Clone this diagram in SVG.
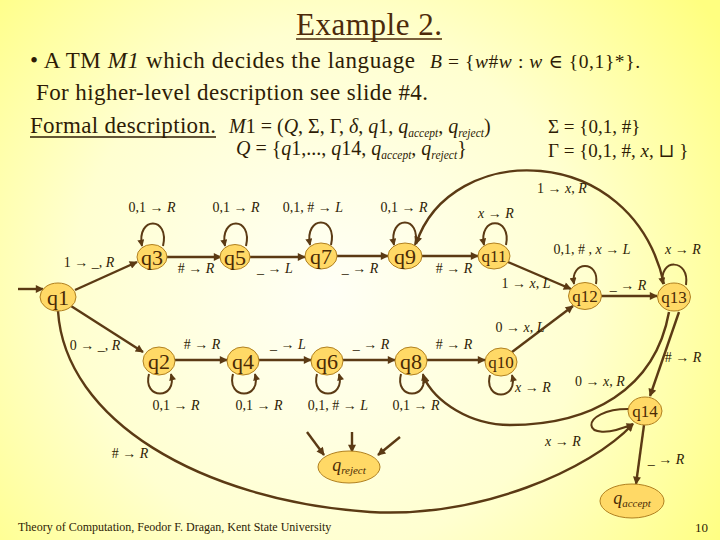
<svg xmlns="http://www.w3.org/2000/svg" width="720" height="540" viewBox="0 0 720 540" font-family="Liberation Serif, DejaVu Serif, Times New Roman, serif">
<defs>
<radialGradient id="bg" cx="330" cy="290" r="470" gradientUnits="userSpaceOnUse">
<stop offset="0" stop-color="#FFFFF6"/>
<stop offset="0.55" stop-color="#FFFFD0"/>
<stop offset="1" stop-color="#FFFF80"/>
</radialGradient>
<marker id="ah" viewBox="0 0 10 10" refX="9" refY="5" markerWidth="10" markerHeight="8" markerUnits="userSpaceOnUse" orient="auto">
<path d="M0,0 L10,5 L0,10 z" fill="#5B3A14"/>
</marker>
<marker id="ahs" viewBox="0 0 10 10" refX="9" refY="5" markerWidth="8" markerHeight="7" markerUnits="userSpaceOnUse" orient="auto">
<path d="M0,0 L10,5 L0,10 z" fill="#5B3A14"/>
</marker>
</defs>
<style>
.t{fill:#2E1C05}
.lb text{font-size:14px;fill:#2E1C05}
.i{font-style:italic}
.n ellipse{fill:#FFD966;stroke:#B08020;stroke-width:1}
.n text{fill:#4A2A05;text-anchor:middle}
.e{fill:none;stroke:#5B3A14;stroke-width:2.4;marker-end:url(#ah)}
.lp{fill:none;stroke:#5B3A14;stroke-width:2;marker-end:url(#ahs)}
</style>
<rect width="720" height="540" fill="url(#bg)"/>

<!-- header text -->
<g id="header">
<text x="369" y="35" font-size="31" text-anchor="middle" fill="#4D2A0A" textLength="146">Example 2.</text>
<line x1="296" y1="39" x2="442" y2="39" stroke="#4D2A0A" stroke-width="1.5"/>
<text class="t" x="30" y="68" font-size="23" textLength="385">• A TM <tspan class="i">M1</tspan> which decides the language</text>
<text class="t" x="430" y="68" font-size="19.5" textLength="210"><tspan class="i">B</tspan> = {<tspan class="i">w</tspan>#<tspan class="i">w</tspan> : <tspan class="i">w</tspan> ∈ {0,1}*}.</text>
<text class="t" x="36" y="100" font-size="23" textLength="392">For higher-level description see slide #4.</text>
<text class="t" x="30" y="133" font-size="23" textLength="186">Formal description.</text>
<line x1="30" y1="137" x2="216" y2="137" stroke="#2E1C05" stroke-width="1.3"/>
<text class="t" x="229" y="133" font-size="20"><tspan class="i">M</tspan>1 = (<tspan class="i">Q</tspan>, Σ, Γ, <tspan class="i">δ</tspan>, <tspan class="i">q</tspan>1, <tspan class="i">q</tspan><tspan class="i" font-size="11.5" dy="4">accept</tspan><tspan dy="-4">, </tspan><tspan class="i">q</tspan><tspan class="i" font-size="11.5" dy="4">reject</tspan><tspan dy="-4">)</tspan></text>
<text class="t" x="236" y="155" font-size="20"><tspan class="i">Q</tspan> = {<tspan class="i">q</tspan>1,..., <tspan class="i">q</tspan>14, <tspan class="i">q</tspan><tspan class="i" font-size="11.5" dy="4">accept</tspan><tspan dy="-4">, </tspan><tspan class="i">q</tspan><tspan class="i" font-size="11.5" dy="4">reject</tspan><tspan dy="-4">}</tspan></text>
<text class="t" x="548" y="133" font-size="19">Σ = {0,1, #}</text>
<text class="t" x="548" y="157" font-size="19">Γ = {0,1, #, <tspan class="i">x</tspan>, ⊔ }</text>
</g>

<!-- connectors -->
<g id="connectors">
<path class="e" d="M18,289 L43,289"/>
<path class="e" d="M75,290 L137,262"/>
<path class="e" d="M71,306 L143,352"/>
<path class="e" d="M166,257 L221,257"/>
<path class="e" d="M249,257 L305,257"/>
<path class="e" d="M337,256 L388,256"/>
<path class="e" d="M422,256 L478,256"/>
<path class="e" d="M508,262 L571,289"/>
<path class="e" d="M601,296 L657,296"/>
<path class="e" d="M512,352 L573,306"/>
<path class="e" d="M175,360 L227,360"/>
<path class="e" d="M259,360 L311,360"/>
<path class="e" d="M343,360 L395,360"/>
<path class="e" d="M427,360 L485,360"/>
<path class="lp" d="M163,246 C170,216 136,216 142,246"/>
<path class="lp" d="M246,246 C253,216 219,216 225,246"/>
<path class="lp" d="M331,245 C338,215 304,215 310,245"/>
<path class="lp" d="M415,245 C422,215 388,215 394,245"/>
<path class="lp" d="M506,245 C512,216 478,216 484,245"/>
<path class="lp" d="M596,284 C600,260 570,260 574,284"/>
<path class="lp" d="M686,285 C690,258 658,258 663,284"/>
<path class="lp" d="M149,374 C142,400 178,400 171,374"/>
<path class="lp" d="M233,374 C226,400 262,400 255,374"/>
<path class="lp" d="M317,374 C310,400 346,400 339,374"/>
<path class="lp" d="M401,374 C394,400 430,400 423,374"/>
<path class="lp" d="M490,375 C483,401 519,401 512,375"/>
<path class="e" d="M664,284 C632,140 450,140 416,244"/>
<path class="e" d="M669,312 C655,390 590,425 510,425 C470,425 435,402 423,376"/>
<path class="e" d="M679,312 L650,396"/>
<path class="e" d="M58,311 C65,420 200,500 370,512 C480,518 590,470 633,424"/>
<path class="lp" d="M630,409 C578,408 578,448 633,424"/>
<path class="e" d="M644,425 L636,484"/>
<path class="e" d="M307,432 L324,455"/>
<path class="e" d="M352,432 L352,452"/>
<path class="e" d="M400,437 L378,455"/>
</g>

<!-- nodes -->
<g id="q1" class="n"><ellipse cx="58" cy="297" rx="18" ry="14"/><text x="58" y="305" font-size="22">q1</text></g>
<g id="q3" class="n"><ellipse cx="152" cy="257" rx="15" ry="12.5"/><text x="152" y="265" font-size="22">q3</text></g>
<g id="q5" class="n"><ellipse cx="235" cy="257" rx="15" ry="12.5"/><text x="235" y="265" font-size="22">q5</text></g>
<g id="q7" class="n"><ellipse cx="321" cy="256" rx="16" ry="13"/><text x="321" y="264" font-size="22">q7</text></g>
<g id="q9" class="n"><ellipse cx="405" cy="256" rx="17" ry="13"/><text x="405" y="264" font-size="22">q9</text></g>
<g id="q11" class="n"><ellipse cx="494" cy="256" rx="16" ry="13"/><text x="494" y="262" font-size="17">q11</text></g>
<g id="q12" class="n"><ellipse cx="585" cy="296" rx="16.5" ry="13.5"/><text x="585" y="302" font-size="17">q12</text></g>
<g id="q13" class="n"><ellipse cx="674" cy="297" rx="16.5" ry="14"/><text x="674" y="303" font-size="17">q13</text></g>
<g id="q2" class="n"><ellipse cx="159" cy="361" rx="16" ry="14"/><text x="159" y="369" font-size="22">q2</text></g>
<g id="q4" class="n"><ellipse cx="243" cy="361" rx="16" ry="14"/><text x="243" y="369" font-size="22">q4</text></g>
<g id="q6" class="n"><ellipse cx="327" cy="361" rx="16" ry="14"/><text x="327" y="369" font-size="22">q6</text></g>
<g id="q8" class="n"><ellipse cx="411" cy="361" rx="16" ry="14"/><text x="411" y="369" font-size="22">q8</text></g>
<g id="q10" class="n"><ellipse cx="501" cy="362" rx="16" ry="14"/><text x="501" y="368" font-size="17">q10</text></g>
<g id="q14" class="n"><ellipse cx="645" cy="411" rx="17" ry="14"/><text x="645" y="417" font-size="17">q14</text></g>
<g id="qreject" class="n"><ellipse cx="349" cy="467" rx="31" ry="16"/><text x="349" y="471" font-size="18"><tspan font-style="italic">q</tspan><tspan font-style="italic" font-size="11" dy="3">reject</tspan></text></g>
<g id="qaccept" class="n"><ellipse cx="632" cy="501" rx="32" ry="17"/><text x="632" y="504" font-size="18"><tspan font-style="italic">q</tspan><tspan font-style="italic" font-size="11" dy="3">accept</tspan></text></g>

<!-- edge labels -->
<g id="labels" class="lb">
<text x="152" y="212" text-anchor="middle">0,1 → <tspan class="i">R</tspan></text>
<text x="236" y="212" text-anchor="middle">0,1 → <tspan class="i">R</tspan></text>
<text x="313" y="212" text-anchor="middle">0,1, # → <tspan class="i">L</tspan></text>
<text x="404" y="212" text-anchor="middle">0,1 → <tspan class="i">R</tspan></text>
<text x="496" y="218" text-anchor="middle"><tspan class="i">x</tspan> → <tspan class="i">R</tspan></text>
<text x="562" y="193" text-anchor="middle">1 → <tspan class="i">x</tspan>, <tspan class="i">R</tspan></text>
<text x="592" y="254" text-anchor="middle">0,1, # , <tspan class="i">x</tspan> → <tspan class="i">L</tspan></text>
<text x="683" y="254" text-anchor="middle"><tspan class="i">x</tspan> → <tspan class="i">R</tspan></text>
<text x="628" y="290" text-anchor="middle">_ → <tspan class="i">R</tspan></text>
<text x="526" y="288" text-anchor="middle">1 → <tspan class="i">x</tspan>, <tspan class="i">L</tspan></text>
<text x="520" y="332" text-anchor="middle">0 → <tspan class="i">x</tspan>, <tspan class="i">L</tspan></text>
<text x="89" y="267" text-anchor="middle">1 → _, <tspan class="i">R</tspan></text>
<text x="95" y="350" text-anchor="middle">0 → _, <tspan class="i">R</tspan></text>
<text x="196" y="273" text-anchor="middle"># → <tspan class="i">R</tspan></text>
<text x="275" y="273" text-anchor="middle">_ → <tspan class="i">L</tspan></text>
<text x="360" y="273" text-anchor="middle">_ → <tspan class="i">R</tspan></text>
<text x="454" y="273" text-anchor="middle"># → <tspan class="i">R</tspan></text>
<text x="202" y="349" text-anchor="middle"># → <tspan class="i">R</tspan></text>
<text x="288" y="349" text-anchor="middle">_ → <tspan class="i">L</tspan></text>
<text x="371" y="349" text-anchor="middle">_ → <tspan class="i">R</tspan></text>
<text x="454" y="349" text-anchor="middle"># → <tspan class="i">R</tspan></text>
<text x="176" y="410" text-anchor="middle">0,1 → <tspan class="i">R</tspan></text>
<text x="259" y="410" text-anchor="middle">0,1 → <tspan class="i">R</tspan></text>
<text x="338" y="410" text-anchor="middle">0,1, # → <tspan class="i">L</tspan></text>
<text x="416" y="410" text-anchor="middle">0,1 → <tspan class="i">R</tspan></text>
<text x="533" y="392" text-anchor="middle"><tspan class="i">x</tspan> → <tspan class="i">R</tspan></text>
<text x="600" y="386" text-anchor="middle">0 → <tspan class="i">x</tspan>, <tspan class="i">R</tspan></text>
<text x="683" y="362" text-anchor="middle"># → <tspan class="i">R</tspan></text>
<text x="563" y="446" text-anchor="middle"><tspan class="i">x</tspan> → <tspan class="i">R</tspan></text>
<text x="666" y="464" text-anchor="middle">_ → <tspan class="i">R</tspan></text>
<text x="130" y="458" text-anchor="middle"># → <tspan class="i">R</tspan></text>
</g>

<g id="footer">
<text class="t" x="18" y="531" font-size="12">Theory of Computation, Feodor F. Dragan, Kent State University</text>
<text class="t" x="695" y="532" font-size="13">10</text>
</g>
</svg>
